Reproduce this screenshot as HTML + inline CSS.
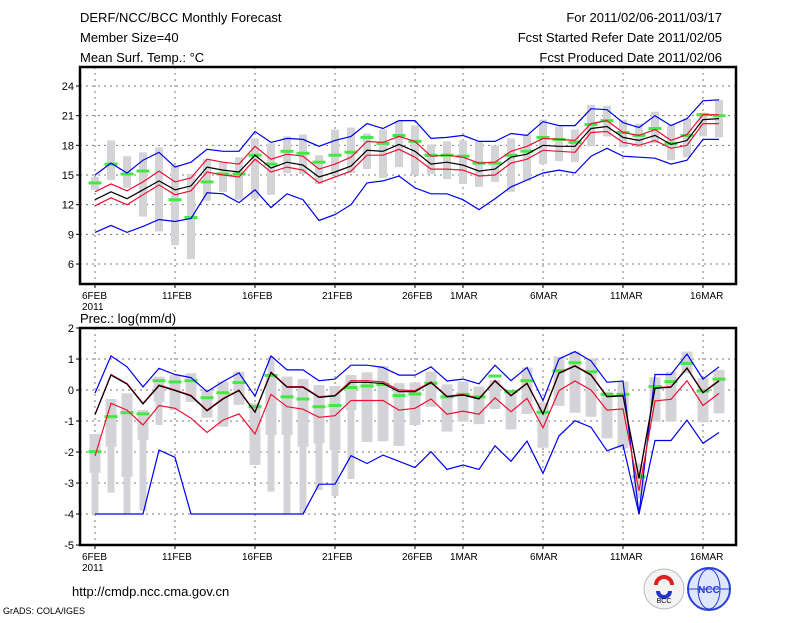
<!DOCTYPE html>
<html><head><meta charset="utf-8"><style>
body{margin:0;background:#fff;width:800px;height:618px;overflow:hidden}
svg text{font-family:"Liberation Sans",sans-serif;fill:#000}
</style></head><body>
<svg id="c" width="800" height="618" xmlns="http://www.w3.org/2000/svg">
<text x="80" y="22" font-size="13">DERF/NCC/BCC Monthly Forecast</text>
<text x="80" y="42" font-size="13">Member Size=40</text>
<text x="80" y="62" font-size="13">Mean Surf. Temp.: °C</text>
<text x="722" y="22" font-size="13" text-anchor="end">For 2011/02/06-2011/03/17</text>
<text x="722" y="42" font-size="13" text-anchor="end">Fcst Started Refer Date 2011/02/05</text>
<text x="722" y="62" font-size="13" text-anchor="end">Fcst Produced Date 2011/02/06</text>
<text x="80" y="323" font-size="13">Prec.: log(mm/d)</text>
<text x="72" y="596" font-size="13">http://cmdp.ncc.cma.gov.cn</text>
<text x="3" y="614" font-size="9">GrADS: COLA/IGES</text>
<g><circle cx="664" cy="589" r="20" fill="#f4f4f4" stroke="#bbb"/><path d="M656 585 a8 8 0 1 1 16 0" stroke="#d22" stroke-width="4" fill="none"/><path d="M658 591 a6 6 0 0 0 12 0" stroke="#23c" stroke-width="4" fill="none"/><text x="664" y="603" font-size="7" text-anchor="middle">BCC</text></g>
<g><circle cx="709" cy="589" r="21" fill="#dfe6ff" stroke="#2a3fd8" stroke-width="2"/><ellipse cx="709" cy="589" rx="11" ry="20" fill="none" stroke="#2a3fd8"/><line x1="689" y1="589" x2="729" y2="589" stroke="#2a3fd8"/><text x="709" y="593" font-size="10" font-weight="bold" text-anchor="middle" style="fill:#2a3fd8">NCC</text></g>
<g id="top"></g><g id="bot"></g>
</svg>
<script>
// ---- Top panel data (temperature) ----
const dayLabels=["6FEB","11FEB","16FEB","21FEB","26FEB","1MAR","6MAR","11MAR","16MAR"];
const dayTicks=[0,5,10,15,20,23,28,33,38];
const tTicks=[6,9,12,15,18,21,24];
const tBlueHi=[15.0,16.2,15.2,16.5,17.3,15.8,16.3,17.6,17.4,17.4,19.4,18.3,18.7,18.6,17.9,18.5,18.9,20.2,19.7,20.5,20.5,18.7,18.8,19.0,18.4,18.4,19.2,19.0,20.4,20.0,20.0,21.7,21.6,20.3,19.8,21.0,20.0,20.7,22.5,22.6];
const tBlueLo=[9.2,9.9,9.2,9.8,10.5,10.3,10.6,13.2,13.1,12.2,13.5,11.7,13.1,12.5,10.4,11.0,12.0,14.2,14.4,14.9,13.7,13.1,13.1,12.5,11.5,12.6,13.8,14.5,15.2,15.5,15.2,16.9,17.7,16.9,16.8,16.7,16.1,16.5,18.6,18.6];
const tBlack=[12.5,13.3,12.6,13.5,14.4,13.5,13.9,15.8,15.5,15.3,17.0,15.7,16.3,16.0,14.8,15.3,15.9,17.5,17.4,18.1,17.4,16.1,16.3,16.0,15.4,15.6,16.8,17.1,18.0,17.9,17.9,19.7,19.9,18.8,18.5,19.0,18.1,18.5,20.6,20.7];
const tRedHi=[13.3,14.1,13.4,14.3,15.4,14.3,14.7,16.6,16.3,16.1,17.9,16.6,17.1,16.9,15.6,16.1,16.8,18.4,18.3,18.9,18.4,16.9,17.0,16.8,16.2,16.3,17.4,17.9,18.7,18.6,18.5,20.2,20.5,19.3,19.0,19.6,18.5,19.1,21.1,21.1];
const tRedLo=[11.9,12.7,12.0,13.0,14.0,13.0,13.4,15.3,15.0,14.8,16.6,15.3,15.8,15.5,14.2,14.8,15.4,17.0,17.0,17.6,16.8,15.6,15.6,15.5,14.9,15.0,16.2,16.6,17.5,17.4,17.3,19.3,19.4,18.3,18.0,18.5,17.7,18.0,20.2,20.2];
const tGreen=[14.2,16.1,15.1,15.4,null,12.5,10.7,14.3,15.1,15.1,17.0,16.1,17.4,17.2,16.3,17.0,17.3,18.8,18.2,19.0,18.4,17.0,17.0,16.9,16.2,16.2,17.0,17.4,18.8,18.6,18.3,20.1,20.5,19.3,19.0,19.7,18.2,19.0,21.1,21.0];
const tBarHi=[14.8,18.5,16.9,17.3,17.8,16.0,15.1,16.6,16.3,16.8,18.7,18.2,18.9,19.1,17.0,19.6,19.8,19.2,19.6,20.5,20.0,18.1,18.4,18.5,18.4,18.0,18.7,19.1,20.6,19.9,19.6,22.1,22.0,20.6,20.2,21.4,20.1,20.7,21.3,22.6];
const tBarLo=[13.5,14.5,13.7,10.8,9.3,7.9,6.5,12.4,13.3,12.5,12.6,13.0,15.2,15.1,14.1,15.0,15.2,15.6,14.7,15.8,15.0,15.1,14.6,14.1,13.8,14.3,13.3,14.4,16.1,16.4,16.3,17.9,18.9,17.8,17.8,18.2,16.5,16.8,18.9,18.8];
// ---- Bottom panel data (precipitation) ----
const pTicks=[-5,-4,-3,-2,-1,0,1,2];
const pBlueHi=[-0.1,1.1,0.75,0.1,0.7,0.5,0.4,-0.05,0.27,0.55,-0.2,1.1,0.65,0.65,0.3,0.35,0.8,0.8,0.73,0.48,0.48,0.75,0.29,0.35,0.2,0.8,0.3,0.73,-0.34,1.0,1.24,0.94,0.25,0.29,-4.0,0.5,0.5,1.16,0.35,0.75];
const pBlueLo=[-4,-4,-4,-4,-1.94,-2.17,-4,-4,-4,-4,-4,-4,-4,-4,-3.04,-3.04,-2.12,-2.37,-2.1,-2.3,-2.5,-1.99,-2.56,-2.42,-2.56,-1.8,-2.3,-1.65,-2.69,-1.48,-0.99,-1.2,-1.96,-1.77,-4,-1.63,-1.63,-0.97,-1.72,-1.37];
const pBlack=[-0.8,0.48,0.19,-0.45,0.14,-0.02,-0.19,-0.67,-0.29,-0.02,-0.72,0.56,0.09,0.09,-0.24,-0.19,0.25,0.25,0.21,-0.05,-0.05,0.24,-0.22,-0.16,-0.29,0.29,-0.19,0.21,-0.78,0.54,0.77,0.48,-0.22,-0.19,-2.85,0.05,0.09,0.7,-0.09,0.29];
const pRedHi=[-0.78,0.5,0.21,-0.43,0.16,0,-0.17,-0.65,-0.27,0,-0.7,0.58,0.11,0.11,-0.22,-0.17,0.3,0.3,0.26,0,-0.02,0.26,-0.2,-0.14,-0.27,0.31,-0.17,0.23,-0.76,0.56,0.79,0.5,-0.2,-0.17,-2.83,0.07,0.11,0.72,-0.07,0.31];
const pRedLo=[-2.13,-0.43,-0.65,-1.13,-0.5,-0.59,-0.91,-1.37,-0.97,-0.77,-1.42,-0.14,-0.54,-0.62,-0.88,-0.83,-0.34,-0.34,-0.34,-0.65,-0.59,-0.29,-0.78,-0.68,-0.78,-0.25,-0.7,-0.27,-1.22,-0.02,0.29,0,-0.65,-0.61,-3.25,-0.35,-0.3,0.3,-0.5,-0.11];
const pGreen=[-1.99,-0.86,-0.73,-0.77,0.3,0.26,0.3,-0.25,-0.09,0.24,-0.54,0.47,-0.22,-0.29,-0.54,-0.5,0.08,0.13,0.18,-0.18,-0.13,0.22,-0.22,-0.14,-0.22,0.45,-0.05,0.3,-0.72,0.62,0.88,0.59,-0.14,-0.14,-2.8,0.11,0.27,0.86,-0.03,0.35];
const pBoxHi=[-1.42,-0.29,-0.11,-0.65,0.43,0.48,0.54,0.02,0.27,0.59,-0.43,0.48,0.43,0.35,0.16,0.13,0.48,0.57,0.77,0.22,0.24,0.59,0.18,0.27,0.11,0.32,0,0.72,-0.4,1.08,1.24,1.02,-0.05,0.27,-2.37,0.41,0.59,1.24,0.38,0.65];
const pBoxLo=[-2.67,-1.83,-2.8,-1.61,-0.38,-0.65,-0.38,-0.89,-1.18,-0.48,-2.42,-1.45,-1.45,-1.83,-1.72,-1.94,-0.65,-1.67,-1.65,-1.8,-1.13,-0.54,-1.34,-1.02,-1.1,-0.61,-1.27,-0.77,-1.86,-0.51,-0.73,-0.86,-1.56,-1.88,-3.49,-1.02,-1.02,0.54,-1.04,-0.75];
const pWhiskHi=[-1.42,-0.29,-0.11,-0.65,0.43,0.48,0.54,0.02,0.27,0.59,-0.43,1.08,0.43,0.35,0.16,0.13,0.48,0.57,0.77,0.22,0.24,0.59,0.18,0.27,0.11,0.32,0,0.72,-0.4,1.08,1.24,1.02,-0.05,0.27,-2.37,0.41,0.59,1.24,0.38,0.65];
const pWhiskLo=[-4,-3.31,-4,-3.9,-1.13,-0.65,-0.38,-0.89,-1.18,-0.48,-2.42,-3.28,-3.98,-3.98,-3.23,-3.42,-2.87,-1.67,-1.65,-1.8,-1.13,-0.54,-1.34,-1.02,-1.1,-0.61,-1.27,-0.77,-1.86,-0.51,-0.73,-0.86,-1.56,-1.88,-3.49,-1.02,-1.02,0.54,-1.04,-0.75];

const NS="http://www.w3.org/2000/svg";
const L=80,R=736;
const xd=d=>95+16*d;
function mk(p,tag,a){const e=document.createElementNS(NS,tag);for(const k in a)e.setAttribute(k,a[k]);p.appendChild(e);return e;}
function line(g,arr,y,color,name){
  const pts=arr.map((v,i)=>xd(i)+","+y(v).toFixed(1)).join(" ");
  const e=mk(g,"polyline",{points:pts,fill:"none",stroke:color,"stroke-width":1.2});
  
  
}
function frame(g,top,bot,ticks,y,name){
  ticks.forEach(t=>{const yy=y(t);
    if(yy>top+1&&yy<bot-1){const gl=mk(g,"line",{x1:L,x2:R,y1:yy,y2:yy,stroke:"#777","stroke-dasharray":"2,4"});
      
      }
    mk(g,"line",{x1:L-4,x2:L,y1:yy,y2:yy,stroke:"#000"});
    const tx=mk(g,"text",{x:L-6,y:yy+4,"font-size":11,"text-anchor":"end"});tx.textContent=t;
    
    
  });
  dayTicks.forEach((d,i)=>{const xx=xd(d);
    const gl=mk(g,"line",{x1:xx,x2:xx,y1:top,y2:bot,stroke:"#777","stroke-dasharray":"2,4"});
    
    
    mk(g,"line",{x1:xx,x2:xx,y1:bot,y2:bot+4,stroke:"#000"});
    const tx=mk(g,"text",{x:xx-13,y:bot+15,"font-size":10});tx.textContent=dayLabels[i];
    
    
  });
  const yr=mk(g,"text",{x:xd(0)-13,y:bot+26,"font-size":10});yr.textContent="2011";
  
  
}
function border(g,top,bot){const b=mk(g,"rect",{x:L,y:top,width:R-L,height:bot-top,fill:"none",stroke:"#000","stroke-width":2.5});
  
  }
function greens(g,arr,y){arr.forEach((v,i)=>{if(v===null)return;
  const e=mk(g,"rect",{x:xd(i)-6.5,y:y(v)-1.5,width:13,height:3,fill:"#44e844"});
  
  });}

// top panel
const tg=document.getElementById("top");
const tTop=67,tBot=284;
const yT=v=>86+(24-v)*9.89;
frame(tg,tTop,tBot,tTicks,yT,"temp");
tBarHi.forEach((h,i)=>{const e=mk(tg,"rect",{x:xd(i)-4,y:yT(h),width:8,height:yT(tBarLo[i])-yT(h),fill:"#d4d4d8"});
  
  });
greens(tg,tGreen,yT);
line(tg,tBlueHi,yT,"#0000ee","temp-max-line");
line(tg,tBlueLo,yT,"#0000ee","temp-min-line");
line(tg,tRedHi,yT,"#ee1133","temp-upper-line");
line(tg,tRedLo,yT,"#ee1133","temp-lower-line");
line(tg,tBlack,yT,"#000","temp-mean-line");
border(tg,tTop,tBot);

// bottom panel
const bg=document.getElementById("bot");
const bTop=328,bBot=545;
const yP=v=>390-31*v;
frame(bg,bTop,bBot,pTicks,yP,"prec");
pWhiskHi.forEach((h,i)=>{const e=mk(bg,"rect",{x:xd(i)-3.5,y:yP(h),width:7,height:yP(pWhiskLo[i])-yP(h),fill:"#d4d4d8"});
  
  });
pBoxHi.forEach((h,i)=>{const e=mk(bg,"rect",{x:xd(i)-5.5,y:yP(h),width:11,height:yP(pBoxLo[i])-yP(h),fill:"#d4d4d8"});
  
  });
greens(bg,pGreen,yP);
line(bg,pBlueHi,yP,"#0000ee","prec-max-line");
line(bg,pBlueLo,yP,"#0000ee","prec-min-line");
line(bg,pRedLo,yP,"#ee1133","prec-lower-line");
line(bg,pRedHi,yP,"#ee1133","prec-upper-line");
line(bg,pBlack,yP,"#000","prec-mean-line");
border(bg,bTop,bBot);
</script>
</body></html>
